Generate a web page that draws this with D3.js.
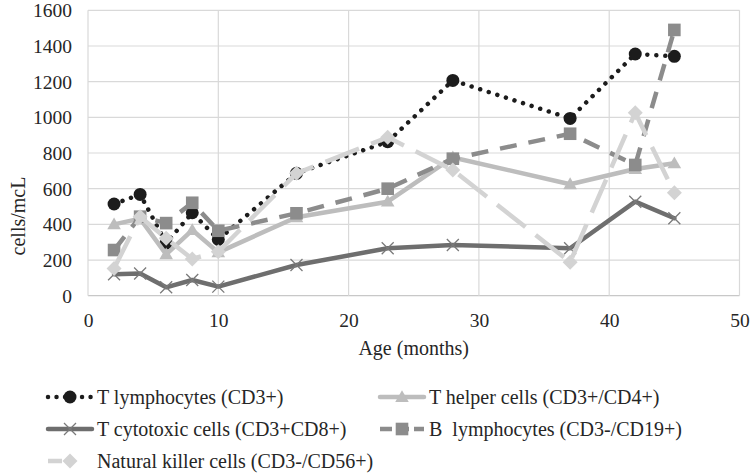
<!DOCTYPE html>
<html><head><meta charset="utf-8">
<script src="https://cdn.jsdelivr.net/npm/d3@7"></script>
<style>
html,body{margin:0;padding:0;background:#fff;}
svg{display:block;}
text{font-family:"Liberation Serif","Times New Roman",serif;fill:#262626;white-space:pre;}
</style></head>
<body><svg id="c" width="750" height="473"></svg>
<script>
const ages = [2, 4, 6, 8, 10, 16, 23, 28, 37, 42, 45];
const tLymph = [514, 568, 295, 465, 315, 686, 863, 1207, 994, 1355, 1342];
const tHelper = [400, 432, 232, 368, 243, 440, 527, 775, 625, 710, 742];
const tCyto = [120, 124, 47, 88, 51, 172, 266, 284, 266, 527, 434];
const bLymph = [256, 443, 407, 521, 364, 462, 600, 768, 908, 733, 1490];
const nkCells = [153, 443, 322, 206, 247, 686, 888, 705, 188, 1026, 577];
const seriesNames = ["T lymphocytes (CD3+)", "T helper cells (CD3+/CD4+)", "T cytotoxic cells (CD3+CD8+)", "B\u00a0 lymphocytes (CD3-/CD19+)", "Natural killer cells (CD3-/CD56+)"];
const xTicks = [0, 10, 20, 30, 40, 50];
const yTicks = [0, 200, 400, 600, 800, 1000, 1200, 1400, 1600];

const svg = d3.select("#c");
const x = d3.scaleLinear().domain([0, 50]).range([88, 739.5]);
const y = d3.scaleLinear().domain([0, 1600]).range([295.7, 10.3]);

// grid
const g = svg.append("g");
g.selectAll("line.h").data(yTicks).join("line")
  .attr("x1", x(0)).attr("x2", x(50)).attr("y1", d => y(d)).attr("y2", d => y(d))
  .attr("stroke", d => d === 0 ? "#c8c8c8" : "#d9d9d9").attr("stroke-width", 1.2);
g.selectAll("line.v").data(xTicks).join("line")
  .attr("y1", y(0)).attr("y2", y(1600)).attr("x1", d => x(d)).attr("x2", d => x(d))
  .attr("stroke", "#d9d9d9").attr("stroke-width", 1.2);

// axes labels via d3 axes (no lines)
const yAxis = svg.append("g").attr("transform", "translate(72,0)")
  .call(d3.axisLeft(y).tickValues(yTicks).tickSize(0).tickPadding(0).tickFormat(d3.format("d")));
yAxis.select(".domain").remove();
yAxis.selectAll("text").attr("font-size", 19.5).attr("font-family", "Liberation Serif").attr("fill", "#262626").attr("dy", "0.34em");

const xAxis = svg.append("g").attr("transform", "translate(0,300)")
  .call(d3.axisBottom(x).tickValues(xTicks).tickSize(0).tickPadding(0).tickFormat(d3.format("d")));
xAxis.select(".domain").remove();
xAxis.selectAll("text").attr("font-size", 19.5).attr("font-family", "Liberation Serif").attr("fill", "#262626").attr("dy", "0").attr("y", 26.5);

svg.append("text").attr("x", 413.7).attr("y", 355).attr("text-anchor", "middle").attr("font-size", 20).text("Age (months)");
svg.append("text").attr("transform", "translate(24.5,216) rotate(-90)").attr("text-anchor", "middle").attr("font-size", 20).text("cells/mcL");

// marker shapes
function marker(sel, type, color) {
  if (type === "circle") {
    sel.append("circle").attr("r", 6.5).attr("fill", color);
  } else if (type === "triangle") {
    sel.append("path").attr("d", d3.symbol(d3.symbolTriangle, 80)()).attr("fill", color).attr("transform", "translate(0,1)");
  } else if (type === "square") {
    sel.append("rect").attr("x", -6.3).attr("y", -6.3).attr("width", 12.6).attr("height", 12.6).attr("fill", color);
  } else if (type === "diamond") {
    sel.append("path").attr("d", "M0,-7.5L7.5,0L0,7.5L-7.5,0Z").attr("fill", color);
  } else if (type === "x") {
    sel.append("path").attr("d", "M-6,-6L6,6M-6,6L6,-6").attr("stroke", "#7a7a7a").attr("stroke-width", 1.3).attr("fill", "none");
  }
}

const series = [
  {name: seriesNames[0], values: tLymph, color: "#1c1c1c", width: 4.5, dash: "0.01 9", cap: "round", marker: "circle", mcolor: "#1c1c1c"},
  {name: seriesNames[1], values: tHelper, color: "#bdbdbd", width: 4.5, dash: null, cap: "round", marker: "triangle", mcolor: "#bdbdbd"},
  {name: seriesNames[2], values: tCyto, color: "#6e6e6e", width: 4.5, dash: null, cap: "round", marker: "x", mcolor: "#7a7a7a"},
  {name: seriesNames[3], values: bLymph, color: "#8c8c8c", width: 4.5, dash: "17 12", cap: "butt", marker: "square", mcolor: "#8c8c8c"},
  {name: seriesNames[4], values: nkCells, color: "#d3d3d3", width: 4.5, dash: "36 13", cap: "butt", marker: "diamond", mcolor: "#d3d3d3"}
];

const line = d3.line().x(d => x(d[0])).y(d => y(d[1]));
series.forEach(s => {
  const pts = ages.map((a, i) => [a, s.values[i]]);
  const sg = svg.append("g");
  sg.append("path").attr("d", line(pts)).attr("fill", "none").attr("stroke", s.color)
    .attr("stroke-width", s.width).attr("stroke-linejoin", "round").attr("stroke-linecap", s.cap)
    .attr("stroke-dasharray", s.dash);
  sg.selectAll("g.m").data(pts).join("g").attr("transform", d => `translate(${x(d[0])},${y(d[1])})`)
    .each(function() { marker(d3.select(this), s.marker, s.mcolor); });
});

// legend
const legPos = [
  {lx: 48, tx: 97, y: 397},
  {lx: 380, tx: 429, y: 397},
  {lx: 48, tx: 97, y: 429},
  {lx: 380, tx: 429, y: 429},
  {lx: 48, tx: 97, y: 461}
];
series.forEach((s, i) => {
  const p = legPos[i];
  const lg = svg.append("g");
  lg.append("line").attr("x1", p.lx).attr("x2", p.lx + 44).attr("y1", p.y).attr("y2", p.y)
    .attr("stroke", s.color).attr("stroke-width", s.width).attr("stroke-linecap", s.cap)
    .attr("stroke-dasharray", i === 0 ? "0.01 8.5" : (s.dash ? (i === 3 ? "12 5" : "14 30") : null));
  const mg = lg.append("g").attr("transform", `translate(${p.lx + 22},${p.y})`);
  marker(mg, s.marker, s.mcolor);
  lg.append("text").attr("x", p.tx).attr("y", p.y + 6.5).attr("font-size", 20).text(s.name);
});
</script></body></html>
